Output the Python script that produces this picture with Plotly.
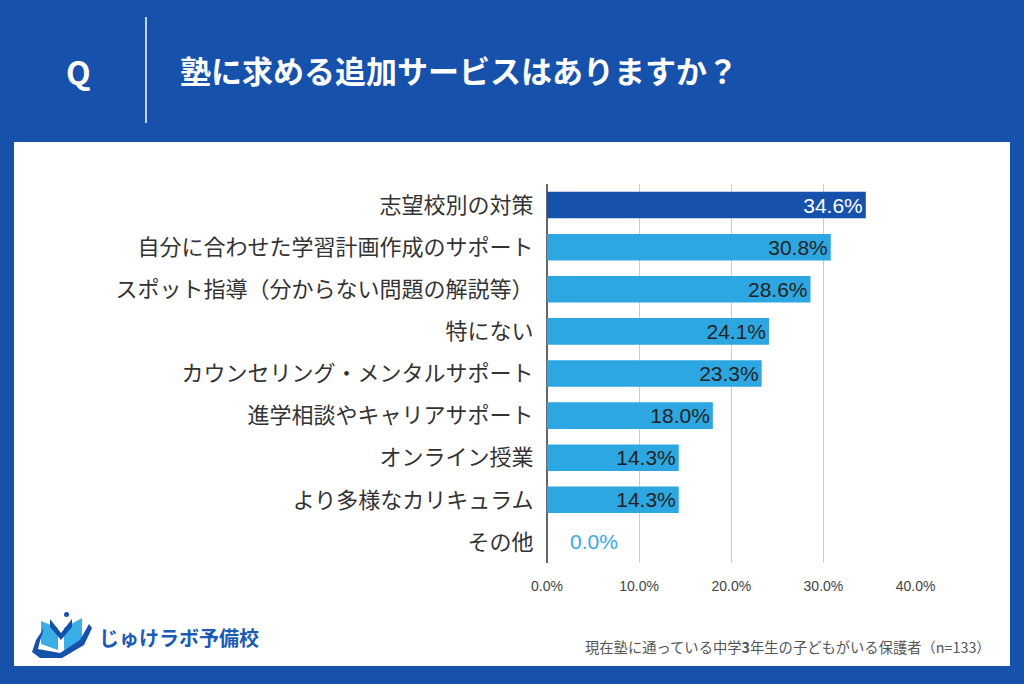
import plotly.graph_objects as go

categories = ["志望校別の対策", "自分に合わせた学習計画作成のサポート", "スポット指導（分からない問題の解説等）",
              "特にない", "カウンセリング・メンタルサポート", "進学相談やキャリアサポート",
              "オンライン授業", "より多様なカリキュラム", "その他"]
values = [34.6, 30.8, 28.6, 24.1, 23.3, 18.0, 14.3, 14.3, 0.0]
tick_vals = [0, 10, 20, 30, 40]
tick_text = ["0.0%", "10.0%", "20.0%", "30.0%", "40.0%"]
title_text = "塾に求める追加サービスはありますか？"
note_text = "現在塾に通っている中学<b>3</b>年生の子どもがいる保護者（n=133）"
logo_text = "じゅけラボ予備校"

W, H = 1024, 684
L, R, T, B = 547, 108, 184, 121
PW, PH = W - L - R, H - T - B

def px(x):
    return (x - L) / PW

def py(y):
    return (H - B - y) / PH

DARK = "#1651AB"
LIGHT = "#2DA7E1"

colors = [DARK] + [LIGHT] * (len(values) - 1)
text_colors = ["white"] + ["#222222"] * (len(values) - 1)
labels = [f"{v:.1f}%" if v > 0 else "" for v in values]

fig = go.Figure(go.Bar(
    x=values, y=categories, orientation="h",
    marker=dict(color=colors, line=dict(width=0)),
    width=0.63,
    text=labels, textposition="inside", insidetextanchor="end", constraintext="none",
    textfont=dict(color=text_colors, size=21, family="Liberation Sans"),
    cliponaxis=False, hoverinfo="skip",
))

shapes = []
# white panel
shapes.append(dict(type="rect", xref="paper", yref="paper", x0=px(14), x1=px(1010), y0=py(666), y1=py(142),
                   fillcolor="white", line=dict(width=0), layer="below"))
# header divider
shapes.append(dict(type="line", xref="paper", yref="paper", x0=px(146), x1=px(146), y0=py(123), y1=py(17),
                   line=dict(color="white", width=1.5)))

def poly(pts):
    return "M " + " L ".join(f"{px(a):.5f},{py(b):.5f}" for a, b in pts) + " Z"

# logo icon (approximate)
shapes.append(dict(type="path", xref="paper", yref="paper", path=poly([(41, 621), (58, 628), (58, 650), (41, 644)]),
                   fillcolor="#3AAEE6", line=dict(width=0)))
shapes.append(dict(type="path", xref="paper", yref="paper", path=poly([(64, 628), (82, 618), (82, 642), (64, 650)]),
                   fillcolor="#3AAEE6", line=dict(width=0)))
shapes.append(dict(type="path", xref="paper", yref="paper",
                   path=poly([(50, 619), (61, 633), (72, 619), (72, 627), (61, 640), (50, 627)]),
                   fillcolor=DARK, line=dict(width=0)))
shapes.append(dict(type="path", xref="paper", yref="paper",
                   path=poly([(32, 652), (36, 640), (44, 628), (40, 641), (38, 649), (60, 653), (80, 640), (89, 624), (92, 628), (84, 645), (62, 658), (40, 658)]),
                   fillcolor=DARK, line=dict(width=0)))
shapes.append(dict(type="circle", xref="paper", yref="paper", x0=px(64), x1=px(69), y0=py(617), y1=py(612),
                   fillcolor=DARK, line=dict(width=0)))

annotations = [
    dict(x=px(78), y=py(71), xref="paper", yref="paper", text="<b>Q</b>", showarrow=False,
         font=dict(color="white", size=32, family="Noto Sans CJK JP"), xanchor="center", yanchor="middle"),
    dict(x=px(178), y=py(70), xref="paper", yref="paper", text=f"<b>{title_text}</b>", showarrow=False,
         font=dict(color="white", size=31, family="Noto Sans CJK JP"), xanchor="left", yanchor="middle"),
    dict(x=px(993), y=py(646), xref="paper", yref="paper", text=note_text, showarrow=False,
         font=dict(color="#555555", size=14.3, family="Noto Sans CJK JP"), xanchor="right", yanchor="middle"),
    dict(x=px(97), y=py(637), xref="paper", yref="paper", text=f"<b>{logo_text}</b>", showarrow=False,
         font=dict(color="#1A5BB5", size=20, family="Noto Sans CJK JP"), xanchor="left", yanchor="middle"),
]
# label for zero-valued bars
for c, v in zip(categories, values):
    if v == 0:
        annotations.append(dict(x=v, y=c, xref="x", yref="y", text=f"{v:.1f}%", showarrow=False,
                                xanchor="left", yanchor="middle", xshift=21,
                                font=dict(color="#3AA8E4", size=21, family="Liberation Sans")))

fig.update_layout(
    width=W, height=H, autosize=False,
    margin=dict(l=L, r=R, t=T, b=B, pad=0),
    paper_bgcolor=DARK, plot_bgcolor="white",
    showlegend=False, bargap=0.37,
    shapes=shapes, annotations=annotations,
    xaxis=dict(range=[0, 40.05], tickvals=tick_vals, ticktext=tick_text, showgrid=True,
               gridcolor="#CCCCCC", gridwidth=1, zeroline=True, zerolinecolor="#666666", zerolinewidth=1.5,
               ticks="outside", ticklen=10, tickcolor="rgba(0,0,0,0)", showline=False,
               tickfont=dict(size=14, color="#444444", family="Liberation Sans"), fixedrange=True),
    yaxis=dict(autorange="reversed", showgrid=False, ticks="outside", ticklen=8, tickcolor="rgba(0,0,0,0)",
               tickfont=dict(size=22, color="#333333", family="Noto Sans CJK JP"), automargin=False, fixedrange=True),
)
fig.update_xaxes(automargin=False)

fig.write_html("out.html", config={"displayModeBar": False},
               post_script="document.body.style.margin='0';document.body.style.overflow='hidden';")
